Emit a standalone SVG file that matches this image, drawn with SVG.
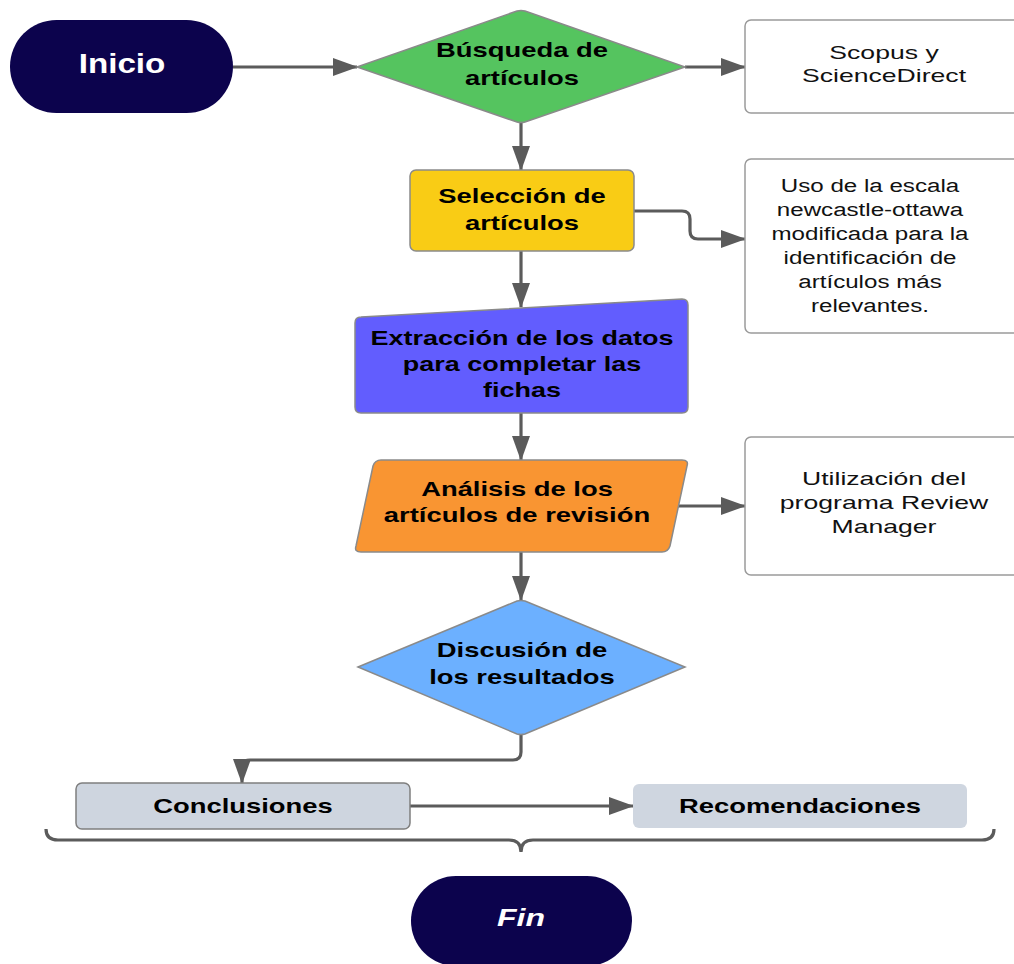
<svg xmlns="http://www.w3.org/2000/svg" width="1014" height="964" viewBox="0 0 1014 964">
<defs>
<marker id="ah" markerUnits="userSpaceOnUse" markerWidth="25" markerHeight="18" refX="24" refY="9" orient="auto">
<path d="M0,0 L25,9 L0,18 z" fill="#5b5b5b"/>
</marker>
<style>
.b{font-family:"Liberation Sans",Arial,sans-serif;font-weight:bold;font-size:20px;fill:#000;text-anchor:middle}
.r{font-family:"Liberation Sans",Arial,sans-serif;font-size:19px;fill:#111;text-anchor:middle}
.w{font-family:"Liberation Sans",Arial,sans-serif;font-weight:bold;fill:#fff;text-anchor:middle}
.sh{stroke:#8a8a8a;stroke-width:1.5}
.box{fill:#fff;stroke:#9a9a9a;stroke-width:1.5}
.c{fill:none;stroke:#5b5b5b;stroke-width:3.2}
</style>
</defs>
<rect width="1014" height="964" fill="#fff"/>

<g id="connectors">
<path class="c" d="M233,67 H357" marker-end="url(#ah)"/>
<path class="c" d="M685,67 H745" marker-end="url(#ah)"/>
<path class="c" d="M521,123 V170" marker-end="url(#ah)"/>
<path class="c" d="M634,211 H682 Q690,211 690,219 V231 Q690,239 698,239 H745" marker-end="url(#ah)"/>
<path class="c" d="M521,251 V307" marker-end="url(#ah)"/>
<path class="c" d="M521,413 V460" marker-end="url(#ah)"/>
<path class="c" d="M678,506 H745" marker-end="url(#ah)"/>
<path class="c" d="M521,552 V600" marker-end="url(#ah)"/>
<path class="c" d="M521,735 V752 Q521,760 513,760 H250 Q242,760 242,768 V783" marker-end="url(#ah)"/>
<path class="c" d="M410,806 H633" marker-end="url(#ah)"/>
<path class="c" d="M46,829 Q46,840 58,840 H509 Q521,840 521,852 Q521,840 533,840 H982 Q994,840 994,829"/>
</g>

<g id="inicio">
<rect x="10" y="20" width="223" height="93" rx="46.5" fill="#0c034d"/>
<text class="w" font-size="27" transform="matrix(1.23,0,0,1,122,73)">Inicio</text>
</g>

<g id="busqueda">
<path class="sh" d="M357,67 L517,11 Q521,10 525,11 L685,67 L525,122 Q521,123 517,122 Z" fill="#55c45f"/>
<text class="b" transform="matrix(1.37,0,0,1,522,57)"><tspan x="0">Búsqueda de</tspan><tspan x="0" dy="28">artículos</tspan></text>
</g>

<g id="scopus">
<rect class="box" x="745" y="20" width="280" height="93" rx="6"/>
<text class="r" transform="matrix(1.4,0,0,1,884,59)"><tspan x="0">Scopus y</tspan><tspan x="0" dy="23.5">ScienceDirect</tspan></text>
</g>

<g id="seleccion">
<rect class="sh" x="410" y="170" width="224" height="81" rx="6" fill="#f9cc15"/>
<text class="b" transform="matrix(1.37,0,0,1,522,203)"><tspan x="0">Selección de</tspan><tspan x="0" dy="27">artículos</tspan></text>
</g>

<g id="uso">
<rect class="box" x="745" y="159" width="280" height="174" rx="6"/>
<text class="r" transform="matrix(1.27,0,0,1,870,192)"><tspan x="0">Uso de la escala</tspan><tspan x="0" dy="24">newcastle-ottawa</tspan><tspan x="0" dy="24">modificada para la</tspan><tspan x="0" dy="24">identificación de</tspan><tspan x="0" dy="24">artículos más</tspan><tspan x="0" dy="24">relevantes.</tspan></text>
</g>

<g id="extraccion">
<path class="sh" d="M361,317 L682,299 Q688,299 688,305 V407 Q688,413 682,413 H361 Q355,413 355,407 V323 Q355,317 361,317 Z" fill="#625dfe"/>
<text class="b" transform="matrix(1.35,0,0,1,522,345)"><tspan x="0">Extracción de los datos</tspan><tspan x="0" dy="26">para completar las</tspan><tspan x="0" dy="26">fichas</tspan></text>
</g>

<g id="analisis">
<path class="sh" d="M381,460 H682 Q689,460 687,466 L670,546 Q668,552 662,552 H361 Q354,552 356,546 L373,466 Q375,460 381,460 Z" fill="#f99532"/>
<text class="b" transform="matrix(1.37,0,0,1,517,496)"><tspan x="0">Análisis de los</tspan><tspan x="0" dy="26">artículos de revisión</tspan></text>
</g>

<g id="review">
<rect class="box" x="745" y="437" width="280" height="138" rx="6"/>
<text class="r" transform="matrix(1.4,0,0,1,884,485)"><tspan x="0">Utilización del</tspan><tspan x="0" dy="24">programa Review</tspan><tspan x="0" dy="24">Manager</tspan></text>
</g>

<g id="discusion">
<path class="sh" d="M358,667 L517,601 Q521,600 525,601 L685,667 L525,734 Q521,735 517,734 Z" fill="#6cb0ff"/>
<text class="b" transform="matrix(1.37,0,0,1,522,657)"><tspan x="0">Discusión de</tspan><tspan x="0" dy="27">los resultados</tspan></text>
</g>

<g id="conclusiones">
<rect x="76" y="783" width="334" height="46" rx="6" fill="#ced5df" stroke="#7f7f7f" stroke-width="1.5"/>
<text class="b" transform="matrix(1.37,0,0,1,243,813)">Conclusiones</text>
</g>

<g id="recomendaciones">
<rect x="633" y="784" width="334" height="44" rx="6" fill="#cfd6e0"/>
<text class="b" transform="matrix(1.37,0,0,1,800,813)">Recomendaciones</text>
</g>

<g id="fin">
<rect x="411" y="876" width="221" height="90" rx="45" fill="#0c034d"/>
<text class="w" font-size="23" font-style="italic" transform="matrix(1.39,0,0,1,521,926)">Fin</text>
</g>
</svg>
